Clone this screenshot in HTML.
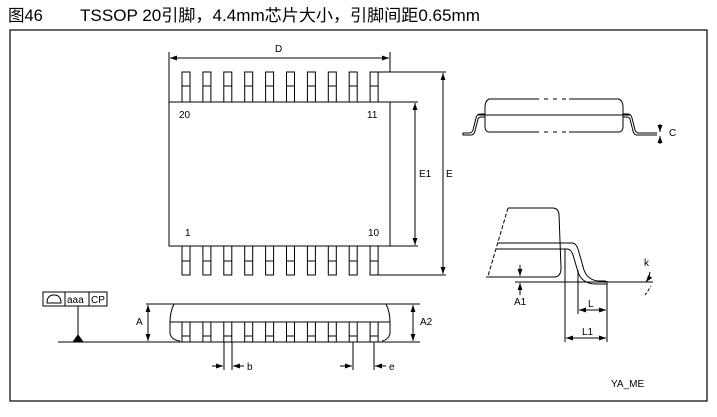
<!DOCTYPE html>
<html><head><meta charset="utf-8"><style>
html,body{margin:0;padding:0;background:#fff;}
svg{display:block;}
text{font-family:"Liberation Sans","Noto Sans CJK SC",sans-serif;fill:#000;}
</style></head><body>
<svg width="717" height="417" viewBox="0 0 717 417" xmlns="http://www.w3.org/2000/svg">
<defs>
<marker id="ar" viewBox="0 0 10 10" refX="10" refY="5" markerWidth="7" markerHeight="7" orient="auto-start-reverse"><path d="M0,1.5 L10,5 L0,8.5 z" fill="#000"/></marker>
</defs>
<text x="8" y="21" font-size="16.5">图46</text>
<text x="80" y="21" font-size="16.5" textLength="400" lengthAdjust="spacingAndGlyphs">TSSOP 20引脚，4.4mm芯片大小，引脚间距0.65mm</text>
<rect x="10" y="30" width="697" height="371" fill="none" stroke="#000" stroke-width="1.2"/>

<g stroke="#000" stroke-width="1" fill="none">
<rect x="169" y="102" width="221" height="144"/>
<line x1="169" y1="52" x2="169" y2="102"/>
<line x1="390" y1="52" x2="390" y2="72"/>
<line x1="170" y1="58" x2="389" y2="58" marker-start="url(#ar)" marker-end="url(#ar)"/>
<line x1="390" y1="102" x2="418" y2="102"/>
<line x1="390" y1="246" x2="418" y2="246"/>
<line x1="378" y1="72" x2="446" y2="72"/>
<line x1="378" y1="275" x2="446" y2="275"/>
<line x1="415" y1="103" x2="415" y2="245" marker-start="url(#ar)" marker-end="url(#ar)"/>
<line x1="443" y1="73" x2="443" y2="274" marker-start="url(#ar)" marker-end="url(#ar)"/>
<g id="pins">
<rect x="182" y="72" width="8" height="30"/><line x1="182" y1="86" x2="190" y2="86"/>
<rect x="182" y="246" width="8" height="29"/><line x1="182" y1="261" x2="190" y2="261"/>
</g>
<use href="#pins" x="20.9"/><use href="#pins" x="41.8"/><use href="#pins" x="62.7"/><use href="#pins" x="83.6"/><use href="#pins" x="104.5"/><use href="#pins" x="125.4"/><use href="#pins" x="146.3"/><use href="#pins" x="167.2"/><use href="#pins" x="188.1"/>

<line x1="58" y1="342" x2="420" y2="342"/>
<line x1="146" y1="304" x2="420" y2="304"/>
<path d="M174,304 Q170,312 170,322 L170,334 Q172,340 180,341 M386,304 Q390,312 390,322 L390,334 Q388,340 382,341"/>
<line x1="170" y1="322" x2="390" y2="322"/>
<g id="sp"><rect x="182" y="322" width="8" height="20"/><line x1="182" y1="336" x2="190" y2="336"/></g>
<use href="#sp" x="20.9"/><use href="#sp" x="41.8"/><use href="#sp" x="62.7"/><use href="#sp" x="83.6"/><use href="#sp" x="104.5"/><use href="#sp" x="125.4"/><use href="#sp" x="146.3"/><use href="#sp" x="167.2"/><use href="#sp" x="188.1"/>
<line x1="148" y1="305" x2="148" y2="341" marker-start="url(#ar)" marker-end="url(#ar)"/>
<line x1="413" y1="305" x2="413" y2="341" marker-start="url(#ar)" marker-end="url(#ar)"/>
<line x1="224" y1="342" x2="224" y2="370"/><line x1="232" y1="342" x2="232" y2="370"/>
<line x1="212" y1="366" x2="223" y2="366" marker-end="url(#ar)"/>
<line x1="244" y1="366" x2="233" y2="366" marker-end="url(#ar)"/>
<line x1="353" y1="342" x2="353" y2="370"/><line x1="374" y1="342" x2="374" y2="370"/>
<line x1="340" y1="366" x2="352" y2="366" marker-end="url(#ar)"/>
<line x1="386" y1="366" x2="375" y2="366" marker-end="url(#ar)"/>
<rect x="43" y="292" width="64" height="14"/>
<line x1="65" y1="292" x2="65" y2="306"/><line x1="89" y1="292" x2="89" y2="306"/>
<path d="M47,303 L61,303 Q61,295 54,295 Q47,295 47,303 Z"/>
<line x1="78" y1="306" x2="78" y2="336"/>
<path d="M73,342 L78,335 L83,342 Z" fill="#000"/>

<path d="M489,99 L619,99 Q623,101 623,107 L623,126 Q623,132 619,132 L489,132 Q485,132 485,126 L485,107 Q485,101 489,99 Z" fill="#fff"/>
<line x1="539" y1="99" x2="569" y2="99" stroke="#fff" stroke-dasharray="5,4" stroke-width="2"/>
<line x1="539" y1="132" x2="569" y2="132" stroke="#fff" stroke-dasharray="5,4" stroke-width="2"/>
<line x1="478" y1="115" x2="630" y2="115"/>
<path d="M485,114 L480,114 Q477,114 476,118 L473,130 Q472,133 469,133 L463,133 L463,135 L471,135 Q474,135 475,131 L478,119 Q479,117 481,117 L485,117"/>
<path d="M623,114 L628,114 Q631,114 632,118 L635,130 Q636,133 639,133 L657,133 M623,117 L627,117 Q629,117 630,119 L633,131 Q634,135 637,135 L657,135"/>
<line x1="660" y1="124" x2="660" y2="132" marker-end="url(#ar)"/>
<line x1="660" y1="144" x2="660" y2="136" marker-end="url(#ar)"/>

<path d="M508,208 L553,208 Q558,208 559,214 L561,268 Q561,277 554,277 L486,277"/>
<line x1="508" y1="208" x2="488" y2="276" stroke-dasharray="4,2"/>
<path d="M497,243 L572,243 Q576,243 578,249 L584,270 Q588,281 600,281 L606,281"/>
<path d="M496,249 L567,249 Q571,249 573,255 L578,272 Q582,284 596,284 L607,284 L607,281"/>
<line x1="515" y1="282" x2="653" y2="282"/>
<line x1="565" y1="249" x2="565" y2="342"/>
<line x1="578" y1="270" x2="578" y2="314"/>
<line x1="607" y1="284" x2="607" y2="342"/>
<line x1="579" y1="310" x2="606" y2="310" marker-start="url(#ar)" marker-end="url(#ar)"/>
<line x1="566" y1="338" x2="606" y2="338" marker-start="url(#ar)" marker-end="url(#ar)"/>
<line x1="520" y1="265" x2="520" y2="276" marker-end="url(#ar)"/>
<line x1="520" y1="295" x2="520" y2="283" marker-end="url(#ar)"/>
<path d="M650,272 Q649,278 646,282" marker-end="url(#ar)"/>
<path d="M645,295 Q648,291 651,286" stroke-dasharray="3,2"/>
</g>

<g font-size="10">
<text x="275" y="52">D</text>
<text x="179" y="118">20</text>
<text x="367" y="118">11</text>
<text x="185" y="236">1</text>
<text x="368" y="236">10</text>
<text x="419" y="177">E1</text>
<text x="446" y="177">E</text>
<text x="136" y="325">A</text>
<text x="420" y="325">A2</text>
<text x="247" y="370">b</text>
<text x="389" y="370">e</text>
<text x="67" y="303">aaa</text>
<text x="91" y="303">CP</text>
<text x="669" y="136">C</text>
<text x="514" y="305">A1</text>
<text x="588" y="307">L</text>
<text x="582" y="335">L1</text>
<text x="644" y="266">k</text>
<text x="611" y="387">YA_ME</text>
</g>
</svg>
</body></html>
